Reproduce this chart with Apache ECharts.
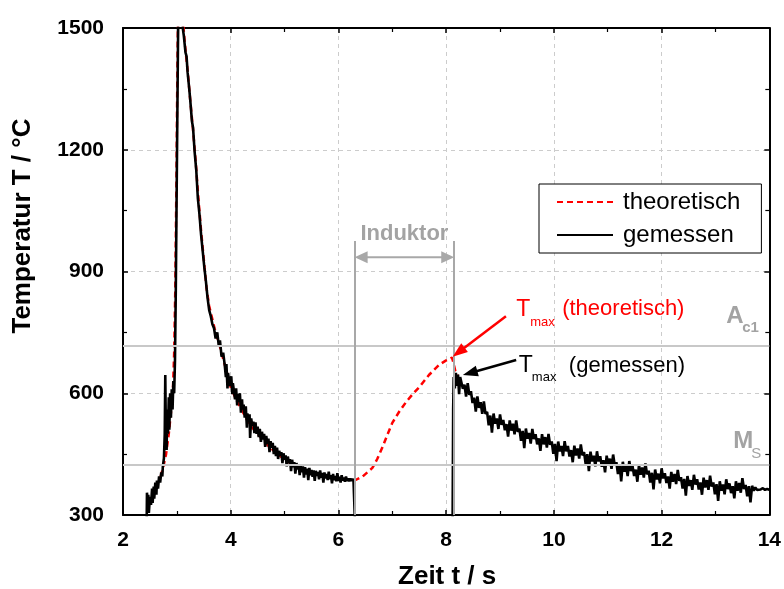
<!DOCTYPE html>
<html><head><meta charset="utf-8">
<script src="https://cdn.jsdelivr.net/npm/echarts@6/dist/echarts.min.js"></script>
<style>html,body{margin:0;padding:0;background:#fff}#c{width:784px;height:589px}</style>
</head><body><div id="c"></div>
<script>
// ---- axis ranges / ticks ----
const xRange = [2, 14], xStep = 2;
const yRange = [300, 1500], yStep = 300;

// ---- reference temperatures ----
const tempAc1 = 716;
const tempMs = 423;
const inductorStart = 6.3;
const inductorEnd = 8.15;

// ---- theoretical curve [t, T] ----
const theoretical = [
  [2.70,395],[2.75,420],[2.80,450],[2.85,500],[2.90,565],[2.93,620],[2.95,700],[2.97,850],[2.99,1100],
  [3.01,1400],[3.03,1650],[3.08,1700],[3.11,1520],[3.15,1460],[3.20,1395],[3.25,1320],[3.30,1250],
  [3.35,1170],[3.40,1080],[3.45,1000],[3.50,930],[3.55,860],[3.60,815],[3.70,760],[3.80,715],[3.90,665],
  [4.00,615],[4.10,585],[4.20,560],[4.30,535],[4.40,515],[4.50,500],[4.60,485],[4.70,470],[4.80,458],
  [4.90,447],[5.00,437],[5.20,420],[5.40,408],[5.60,400],[5.80,394],[6.00,390],[6.20,387],[6.30,385],
  [6.45,395],[6.63,416],[6.72,438],[6.82,468],[6.91,498],[7.00,527],[7.13,555],[7.26,579],[7.38,598],
  [7.50,615],[7.68,645],[7.87,670],[8.00,681],[8.11,688],[8.14,672],[8.17,655],[8.22,645]
];

// ---- measured curve [t, T] ----
const measured = [
  [2.44,290],[2.445,355],[2.46,320],[2.47,350],[2.48,305],[2.50,345],[2.52,325],[2.54,365],[2.55,330],
  [2.57,370],[2.58,340],[2.60,380],[2.62,350],[2.63,385],[2.65,365],[2.67,395],[2.69,380],[2.71,405],
  [2.73,395],[2.74,420],[2.76,440],[2.775,500],[2.785,645],[2.795,520],[2.81,460],[2.82,560],[2.835,500],
  [2.85,590],[2.86,510],[2.875,600],[2.89,540],[2.905,610],[2.92,560],[2.935,630],[2.95,600],[2.965,680],
  [2.98,850],[3.00,1150],[3.02,1450],[3.04,1700],
  [3.08,1650],[3.11,1500],[3.13,1480],[3.16,1440],[3.18,1430],[3.20,1390],[3.23,1350],[3.25,1320],
  [3.28,1270],[3.30,1255],[3.33,1195],[3.36,1150],[3.39,1080],[3.42,1040],[3.45,990],[3.48,950],
  [3.51,910],[3.54,875],[3.57,835],[3.60,805],[3.63,790],[3.66,770],[3.69,760],[3.72,735],[3.75,750],
  [3.78,715],[3.80,730],[3.83,690],[3.86,700],[3.89,668],[3.91,640],[3.92,672],[3.94,612],[3.95,650],
  [3.97,630],[3.99,618],[4.01,642],[4.03,598],[4.04,625],[4.06,605],[4.08,585],[4.10,612],[4.12,570],
  [4.13,598],[4.15,578],[4.17,600],[4.19,552],[4.21,585],[4.22,560],[4.24,572],[4.26,540],[4.28,568],
  [4.30,515],[4.31,550],[4.33,535],[4.35,548],[4.36,490],[4.38,538],[4.40,520],[4.42,530],[4.44,502],
  [4.46,528],[4.48,500],[4.50,518],[4.52,492],[4.54,512],[4.56,480],[4.58,505],[4.60,486],[4.62,500],
  [4.64,468],[4.66,495],[4.68,475],[4.70,488],[4.72,455],[4.74,482],[4.76,466],[4.78,478],[4.80,450],
  [4.82,470],[4.84,445],[4.86,466],[4.88,438],[4.90,458],[4.92,446],[4.94,455],[4.96,428],[4.98,452],
  [5.00,436],[5.02,447],[5.04,420],[5.06,444],[5.08,428],[5.10,438],[5.12,408],[5.14,436],[5.16,418],
  [5.18,430],[5.20,402],[5.22,428],[5.24,412],[5.26,425],[5.28,398],[5.30,422],[5.32,405],[5.34,420],
  [5.36,392],[5.38,418],[5.40,400],[5.42,414],[5.44,386],[5.46,416],[5.48,398],[5.50,411],[5.52,394],
  [5.54,410],[5.56,384],[5.58,409],[5.60,396],[5.62,406],[5.64,388],[5.66,410],[5.68,392],[5.70,404],
  [5.72,380],[5.74,405],[5.76,390],[5.78,401],[5.80,386],[5.82,407],[5.84,388],[5.86,398],[5.88,378],
  [5.90,401],[5.92,386],[5.94,396],[5.96,383],[5.98,403],[6.00,384],[6.02,394],[6.04,380],[6.06,398],
  [6.08,385],[6.10,392],[6.12,382],[6.14,395],[6.16,384],[6.18,390],[6.20,383],[6.22,390],[6.24,384],
  [6.26,389],[6.28,383],[6.30,386],[6.305,290],
  [7.2,'-'],
  [8.12,290],[8.13,560],[8.14,640],[8.16,612],[8.18,650],[8.20,618],[8.22,646],[8.24,598],[8.26,640],
  [8.28,639],[8.31,611],[8.34,621],[8.37,592],[8.40,625],[8.43,596],[8.46,605],[8.49,576],[8.52,589],
  [8.55,555],[8.58,592],[8.61,564],[8.64,578],[8.67,549],[8.70,580],[8.73,549],[8.76,554],[8.79,521],
  [8.82,545],[8.85,503],[8.88,550],[8.91,525],[8.94,538],[8.97,512],[9.00,548],[9.03,522],[9.06,534],
  [9.09,509],[9.12,524],[9.15,493],[9.18,533],[9.21,508],[9.24,525],[9.27,499],[9.30,533],[9.33,505],
  [9.36,513],[9.39,483],[9.42,507],[9.45,465],[9.48,513],[9.51,488],[9.54,502],[9.57,476],[9.60,512],
  [9.63,487],[9.66,499],[9.69,474],[9.72,489],[9.75,458],[9.78,499],[9.81,474],[9.84,492],[9.87,466],
  [9.90,500],[9.93,473],[9.96,481],[9.99,451],[10.02,475],[10.05,433],[10.08,481],[10.11,457],[10.14,470],
  [10.17,445],[10.20,482],[10.23,457],[10.26,470],[10.29,444],[10.32,460],[10.35,430],[10.38,471],
  [10.41,447],[10.44,464],[10.47,439],[10.50,474],[10.53,447],[10.56,455],[10.59,426],[10.62,450],
  [10.65,408],[10.68,456],[10.71,432],[10.74,446],[10.77,420],[10.80,457],[10.83,432],[10.86,445],
  [10.89,419],[10.92,435],[10.95,405],[10.98,446],[11.01,422],[11.04,439],[11.07,414],[11.10,449],
  [11.13,422],[11.16,430],[11.19,401],[11.22,425],[11.25,383],[11.28,431],[11.31,407],[11.34,421],
  [11.37,396],[11.40,433],[11.43,408],[11.46,421],[11.49,396],[11.52,412],[11.55,382],[11.58,423],
  [11.61,399],[11.64,417],[11.67,392],[11.70,427],[11.73,400],[11.76,409],[11.79,380],[11.82,404],
  [11.85,363],[11.88,412],[11.91,388],[11.94,402],[11.97,378],[12.00,415],[12.03,390],[12.06,403],
  [12.09,379],[12.12,395],[12.15,365],[12.18,406],[12.21,382],[12.24,401],[12.27,376],[12.30,411],
  [12.33,384],[12.36,393],[12.39,365],[12.42,389],[12.45,348],[12.48,396],[12.51,372],[12.54,386],
  [12.57,362],[12.60,399],[12.63,375],[12.66,388],[12.69,363],[12.72,380],[12.75,350],[12.78,392],
  [12.81,368],[12.84,386],[12.87,362],[12.90,397],[12.93,370],[12.96,380],[12.99,351],[13.02,376],
  [13.05,335],[13.08,383],[13.11,360],[13.14,375],[13.17,351],[13.20,388],[13.23,364],[13.26,378],
  [13.29,354],[13.32,371],[13.35,341],[13.38,383],[13.41,360],[13.44,379],[13.47,355],[13.50,391],
  [13.53,364],[13.56,374],[13.59,346],[13.62,371],[13.65,331],[13.68,372],[13.71,360],[13.74,368],
  [13.77,362],[13.80,366],[13.84,363],[13.88,366],[13.92,362],[13.96,364],[14.0,362]
];

// ---- annotation anchors (data coordinates) ----
const tmaxTheoArrow = {tail:[9.11,790], tip:[8.12,690]};
const tmaxMeasArrow = {tail:[9.30,682], tip:[8.31,645]};
const tmaxTheoLabel = [9.30,807];
const tmaxMeasLabel = [9.35,667];
const inductorArrowTemp = 935;
const inductorLineTop = 975;
const inductorLabelTemp = 993;
const ac1Label = [13.2,790];
const msLabel = [13.33,482];

const FONT = 'Liberation Sans, Arial, Helvetica, sans-serif';
const GREY_TXT = '#a3a3a3';

const tickStyle = {show:true, inside:true, length:5, lineStyle:{color:'#000', width:1.5}};
const minorStyle = {show:true, splitNumber:2, length:4, lineStyle:{color:'#000', width:1.2}};
const lineAxis = {show:true, onZero:false, lineStyle:{color:'#000', width:2}};
const labelStyle = {color:'#000', fontSize:21, fontWeight:'bold', fontFamily:FONT, formatter:(v)=>String(v)};

const option = {
  animation:false,
  textStyle:{fontFamily:FONT},
  grid:{left:123, right:13, top:28, bottom:74, containLabel:false},
  legend:{
    left:539, top:184, orient:'vertical', data:['theoretisch','gemessen'],
    itemWidth:56, itemHeight:14, itemGap:7, padding:[5,21,5,17],
    borderColor:'#000', borderWidth:1, borderRadius:0, backgroundColor:'#fff',
    itemStyle:{color:'rgba(0,0,0,0)', borderColor:'rgba(0,0,0,0)', borderWidth:0, opacity:0},
    textStyle:{fontSize:24, color:'#000', lineHeight:26, padding:[0,0,0,5], fontFamily:FONT}
  },
  xAxis:[
    {type:'value', min:xRange[0], max:xRange[1], interval:xStep, position:'bottom',
     axisLine:lineAxis, axisTick:tickStyle, minorTick:minorStyle,
     splitLine:{show:true, lineStyle:{color:'#cccccc', type:[4,4], width:1}},
     axisLabel:Object.assign({margin:15}, labelStyle)},
    {type:'value', min:xRange[0], max:xRange[1], interval:xStep, position:'top',
     axisLine:lineAxis, axisTick:tickStyle, minorTick:minorStyle,
     splitLine:{show:false}, axisLabel:{show:false}}
  ],
  yAxis:[
    {type:'value', min:yRange[0], max:yRange[1], interval:yStep, position:'left',
     axisLine:lineAxis, axisTick:tickStyle, minorTick:minorStyle,
     splitLine:{show:true, lineStyle:{color:'#cccccc', type:[4,4], width:1}},
     axisLabel:Object.assign({margin:19}, labelStyle)},
    {type:'value', min:yRange[0], max:yRange[1], interval:yStep, position:'right',
     axisLine:lineAxis, axisTick:tickStyle, minorTick:minorStyle,
     splitLine:{show:false}, axisLabel:{show:false}}
  ],
  series:[
    {type:'line', name:'_ref', data:[], z:1, silent:true,
     markLine:{silent:true, symbol:['none','none'], label:{show:false},
       lineStyle:{color:'#c8c8c8', width:2, type:'solid'},
       data:[
         {yAxis:tempAc1},
         {yAxis:tempMs},
         [{coord:[inductorStart,yRange[0]], lineStyle:{color:'#a8a8a8', width:2}},{coord:[inductorStart,inductorLineTop]}],
         [{coord:[inductorEnd,yRange[0]], lineStyle:{color:'#a8a8a8', width:2}},{coord:[inductorEnd,inductorLineTop]}]
       ]}
    },
    {type:'line', name:'theoretisch', data:theoretical, symbol:'none', z:3,
     lineStyle:{color:'#ff0000', width:2.5, type:[6,4]}, itemStyle:{color:'#ff0000'}},
    {type:'line', name:'gemessen', data:measured, symbol:'none', z:4, connectNulls:false,
     lineStyle:{color:'#000', width:2.6}, itemStyle:{color:'#000'}}
  ]
};

const chart = echarts.init(document.getElementById('c'));
chart.setOption(option);

const P = (pt) => chart.convertToPixel({xAxisIndex:0, yAxisIndex:0}, pt);

function arrowHead(tipPx, fromPx, len, hw, color, z) {
  const dx = tipPx[0]-fromPx[0], dy = tipPx[1]-fromPx[1];
  const d = Math.hypot(dx,dy) || 1;
  const ux = dx/d, uy = dy/d;
  const bx = tipPx[0]-ux*len, by = tipPx[1]-uy*len;
  return {type:'polygon', z:z, silent:true,
    shape:{points:[tipPx,[bx-uy*hw, by+ux*hw],[bx+uy*hw, by-ux*hw]]},
    style:{fill:color}};
}
function arrow(tail, tip, color, width, len, hw, z) {
  const a = P(tail), b = P(tip);
  const dx = b[0]-a[0], dy = b[1]-a[1], d = Math.hypot(dx,dy);
  const base = [b[0]-dx/d*(len-1), b[1]-dy/d*(len-1)];
  return [
    {type:'line', z:z, silent:true, shape:{x1:a[0], y1:a[1], x2:base[0], y2:base[1]},
     style:{stroke:color, lineWidth:width}},
    arrowHead(b, a, len, hw, color, z)
  ];
}
function txt(px, text, font, color, align, valign, z, rot) {
  return {type:'text', z:z||20, silent:true, x:px[0], y:px[1], rotation:rot||0,
    style:{text:text, font:font, fill:color, textAlign:align||'left', textVerticalAlign:valign||'middle'}};
}

const g = [];
// inductor double arrow
const ia = P([inductorStart, inductorArrowTemp]), ib = P([inductorEnd, inductorArrowTemp]);
g.push({type:'line', z:5, silent:true, shape:{x1:ia[0]+10, y1:ia[1], x2:ib[0]-10, y2:ib[1]}, style:{stroke:'#a8a8a8', lineWidth:2}});
g.push(arrowHead(ia, ib, 13, 6, '#a8a8a8', 5));
g.push(arrowHead(ib, ia, 13, 6, '#a8a8a8', 5));
const il = P([(inductorStart+inductorEnd)/2, inductorLabelTemp]);
g.push(txt(il, 'Induktor', 'bold 22px '+FONT, GREY_TXT, 'center', 'middle', 6));

// T_max arrows
g.push(...arrow(tmaxTheoArrow.tail, tmaxTheoArrow.tip, '#ff0000', 2.5, 15, 5.5, 20));
g.push(...arrow(tmaxMeasArrow.tail, tmaxMeasArrow.tip, '#000', 2.5, 15, 5.5, 20));

// T_max labels
const lt = P(tmaxTheoLabel);
g.push(txt(lt, 'T', '23px '+FONT, '#ff0000', 'left', 'middle'));
g.push(txt([lt[0]+14, lt[1]+13], 'max', '13px '+FONT, '#ff0000', 'left', 'middle'));
g.push(txt([lt[0]+46, lt[1]], '(theoretisch)', '22px '+FONT, '#ff0000', 'left', 'middle'));
const lm = P(tmaxMeasLabel);
g.push(txt(lm, 'T', '23px '+FONT, '#000', 'left', 'middle'));
g.push(txt([lm[0]+13, lm[1]+11], 'max', '13px '+FONT, '#000', 'left', 'middle'));
g.push(txt([lm[0]+50, lm[1]], '(gemessen)', '22px '+FONT, '#000', 'left', 'middle'));

// A_c1 and M_S
const la = P(ac1Label);
g.push(txt(la, 'A', 'bold 24px '+FONT, GREY_TXT, 'left', 'middle'));
g.push(txt([la[0]+16, la[1]+12], 'c1', 'bold 15px '+FONT, GREY_TXT, 'left', 'middle'));
const ls = P(msLabel);
g.push(txt(ls, 'M', 'bold 24px '+FONT, GREY_TXT, 'left', 'middle'));
g.push(txt([ls[0]+18, ls[1]+13], 'S', '15px '+FONT, GREY_TXT, 'left', 'middle'));

// axis names
const gridCenterX = (P([xRange[0], yRange[0]])[0] + P([xRange[1], yRange[0]])[0]) / 2;
const bottomY = P([xRange[0], yRange[0]])[1];
g.push(txt([gridCenterX+1, bottomY+62], 'Zeit t / s', 'bold 26px '+FONT, '#000', 'center', 'middle'));
g.push(txt([23, P([xRange[0], 1012])[1]], 'Temperatur T / °C', 'bold 26px '+FONT, '#000', 'center', 'middle', 20, Math.PI/2));

chart.setOption({graphic:{elements:g}});
</script>
</body></html>
